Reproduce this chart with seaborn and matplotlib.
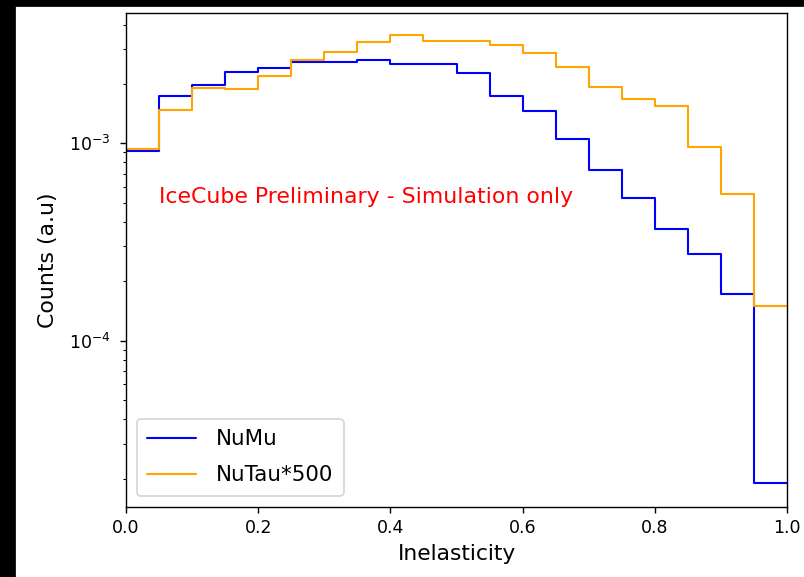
import numpy as np
import pandas as pd
import matplotlib
matplotlib.use("Agg")
import matplotlib.pyplot as plt
import seaborn as sns
from matplotlib.patches import Rectangle

# Bin edges of the inelasticity histogram (20 bins from 0 to 1)
bin_edges = [0.00, 0.05, 0.10, 0.15, 0.20, 0.25, 0.30, 0.35, 0.40, 0.45, 0.50,
             0.55, 0.60, 0.65, 0.70, 0.75, 0.80, 0.85, 0.90, 0.95, 1.00]

# Normalised counts
numu_counts = [9.11e-4, 1.74e-3, 1.97e-3, 2.31e-3, 2.42e-3, 2.57e-3, 2.57e-3,
               2.65e-3, 2.52e-3, 2.52e-3, 2.26e-3, 1.74e-3, 1.46e-3, 1.05e-3,
               7.32e-4, 5.26e-4, 3.68e-4, 2.75e-4, 1.72e-4, 1.90e-5]
nutau_counts = [9.39e-4, 1.48e-3, 1.91e-3, 1.88e-3, 2.20e-3, 2.65e-3, 2.91e-3,
                3.25e-3, 3.52e-3, 3.31e-3, 3.31e-3, 3.14e-3, 2.88e-3, 2.43e-3,
                1.92e-3, 1.67e-3, 1.55e-3, 9.61e-4, 5.51e-4, 1.49e-4]

labels = ["NuMu", "NuTau*500"]
colors = ["blue", "orange"]

sns.set_style("ticks")
plt.rcParams["font.family"] = ["DejaVu Sans"]
plt.rcParams["axes.edgecolor"] = "black"
plt.rcParams["xtick.color"] = "black"
plt.rcParams["ytick.color"] = "black"
plt.rcParams["text.color"] = "black"
plt.rcParams["axes.labelcolor"] = "black"

fig = plt.figure(figsize=(804 / 125, 577 / 125), dpi=125)
ax = fig.add_axes([0.1567, 0.1218, 0.9789 - 0.1567, 0.977 - 0.1218])

edges = np.array(bin_edges)
centers = (edges[:-1] + edges[1:]) / 2
for counts, label, color in zip([numu_counts, nutau_counts], labels, colors):
    df = pd.DataFrame({"inelasticity": centers, "weight": counts})
    sns.histplot(data=df, x="inelasticity", weights="weight",
                 binwidth=0.05, binrange=(0, 1), element="step",
                 fill=False, color=color, linewidth=1.2, label=label, ax=ax)

ax.set_yscale("log")
ax.set_xlim(0, 1)
ax.set_ylim(1.44e-5, 4.56e-3)
ax.set_xticks([0.0, 0.2, 0.4, 0.6, 0.8, 1.0])
ax.tick_params(labelsize=10)
ax.tick_params(axis="y", which="major", pad=5.5)
ax.set_xlabel("Inelasticity", fontsize=12.5)
ax.set_ylabel("Counts (a.u)", fontsize=12.7, labelpad=6)

ax.text(0.05, 5e-4, "IceCube Preliminary - Simulation only", color="red",
        fontsize=12.7)
ax.legend(loc="lower left", fontsize=12.3, labelspacing=0.75, borderpad=0.5,
          handlelength=2.3, handletextpad=0.9)

# dark screenshot borders on the left and top
fig.patches.append(Rectangle((0, 0), 15 / 804, 1, transform=fig.transFigure,
                             color="black", zorder=10))
fig.patches.append(Rectangle((0, 1 - 6 / 577), 1, 6 / 577, transform=fig.transFigure,
                             color="black", zorder=10))

fig.savefig("out.png", dpi=125)
